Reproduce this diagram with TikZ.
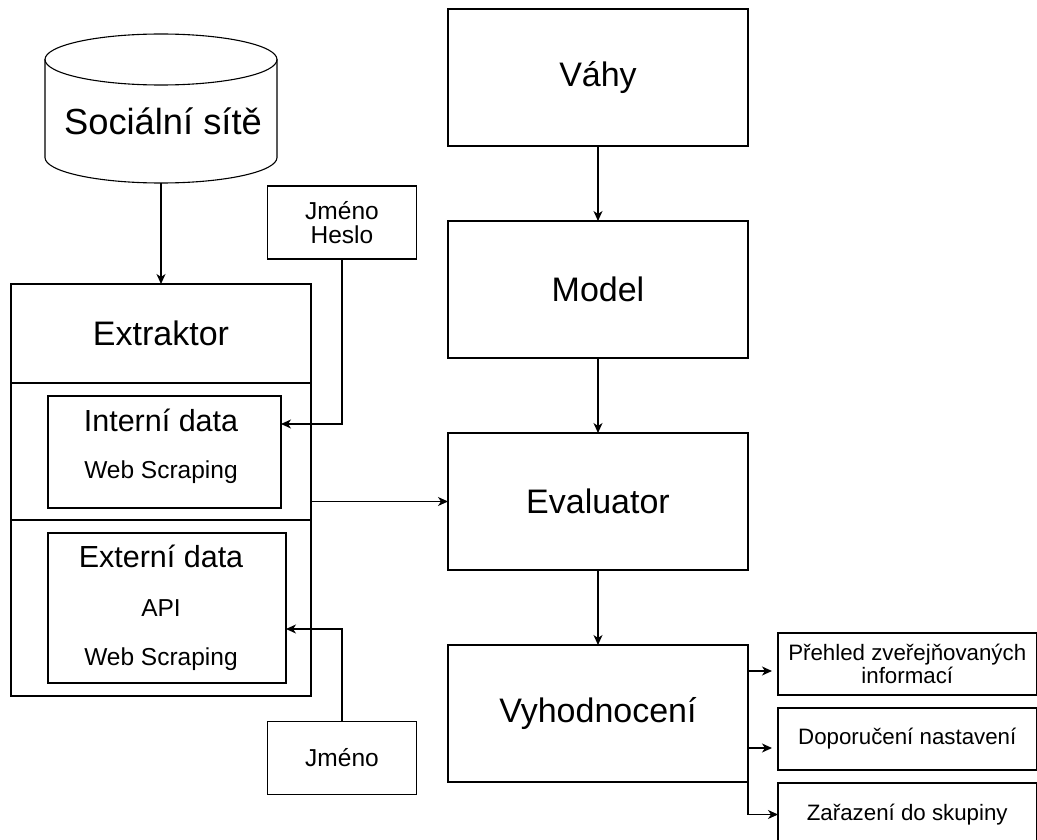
\documentclass[tikz,border=0pt]{standalone}
\usepackage{fontspec}
\setmainfont{Liberation Sans}
\usetikzlibrary{positioning}
\usetikzlibrary{arrows.meta}
\usetikzlibrary{calc}

\begin{document}
\begin{tikzpicture}[
            x = 1pt, y = -1pt, % pixel grid, y going down
            > = {Stealth[length=10pt, width=9pt, inset=3pt]}, % arrow head style
            line width = 1.1pt, % line style
            node distance = 75pt % distance between blocks
        ]

        \tikzstyle{block}=[
            draw,
            outer sep = 0pt,
            inner sep = 0pt,
            minimum width = 300pt,
            minimum height = 137pt,
            font = \fontsize{34}{40}\selectfont
        ]
        \tikzstyle{inner block}=[
            draw,
            outer sep = 0pt,
            inner sep = 0pt
        ]
        \tikzstyle{small block}=[
            inner block,
            align = center,
            minimum width = 149pt,
            minimum height = 73pt,
            font = \fontsize{24.5}{24.5}\selectfont
        ]
        \tikzstyle{out block}=[
            inner block,
            align = center,
            minimum width = 258.5pt,
            minimum height = 62pt,
            font = \fontsize{22.3}{23.5}\selectfont
        ]
        \tikzstyle{big text}=[anchor = base, inner sep = 0pt, font = \fontsize{30.5}{36}\selectfont]
        \tikzstyle{mid text}=[anchor = base, inner sep = 0pt, font = \fontsize{24.5}{29}\selectfont]

        \useasboundingbox (0,0) rectangle (1037,840);
        \clip (0,0) rectangle (1037,840);

        % source
        \node[inner sep=0pt, outer sep=0pt, minimum width=232pt, minimum height=149pt] (S) at (161,108.5) {};
        \draw ([yshift=-25.5pt]S.north west) -- ([yshift=25.5pt]S.south west)
            arc[start angle=180, end angle=360, x radius=116pt, y radius=25.5pt]
            -- ([yshift=-25.5pt]S.north east);
        \draw ([yshift=-25.5pt]S.north) ellipse [x radius=116pt, y radius=25.5pt];
        \node[font=\fontsize{36.3}{42}\selectfont] (St) at (163,121) {Sociální sítě};

        % extractor
        \node[block, minimum height=99pt] (E) at (161,333.5) {Extraktor};
        \node[block, minimum height=137pt] (EM) [below = 0pt of E] {};
        \node[block, minimum height=176pt] (EB) [below = 0pt of EM] {};

        \node[inner block, minimum width=233pt, minimum height=112pt] (ID) at (164.5,452) {};
        \node[big text] (IDa) at (161,431.7) {Interní data};
        \node[mid text] (IDb) at (161,478.8) {Web Scraping};

        \node[inner block, minimum width=238pt, minimum height=150pt] (ED) at (167,608) {};
        \node[big text] (EDa) at (161,567.7) {Externí data};
        \node[mid text] (EDb) at (161,616.8) {API};
        \node[mid text] (EDc) at (161,665.8) {Web Scraping};

        \path[->] (S) edge (E);

        % credentials
        \node[small block] (JH) at (342,222.5) {Jméno\\Heslo};
        \node[small block] (J) at (342,758) {Jméno};

        \draw[->] (JH.south) |- ([yshift=28pt]ID.east);
        \draw[->] (J.north) |- ([yshift=-21pt]ED.east);

        % model chain
        \node[block] (V) at (598,77.5) {Váhy};
        \node[block] (M) [below = of V] {Model};
        \node[block] (EV) [below = of M] {Evaluator};
        \node[block] (VY) [below = of EV] {Vyhodnocení};

        \path[->] (V) edge (M);
        \path[->] (M) edge (EV);
        \path[->] (EV) edge (VY);
        \draw[->] (EV.west -| EM.east) -- (EV.west);

        % results
        \node[out block] (R1) at (907.25,664) {Přehled zveřejňovaných\\informací};
        \node[out block] (R2) at (907.25,739) {Doporučení nastavení};
        \node[out block, minimum height=63pt] (R3) at (907.25,814.5) {Zařazení do skupiny};

        \coordinate (a1) at ([yshift=-7pt]R1.west);
        \coordinate (a2) at ([yshift=-9pt]R2.west);
        \draw[->, shorten >=6pt] (a1 -| VY.east) -- (a1);
        \draw[->, shorten >=6pt] (a2 -| VY.east) -- (a2);
        \draw[->] (VY.south east) |- (R3.west);

\end{tikzpicture}
\end{document}
